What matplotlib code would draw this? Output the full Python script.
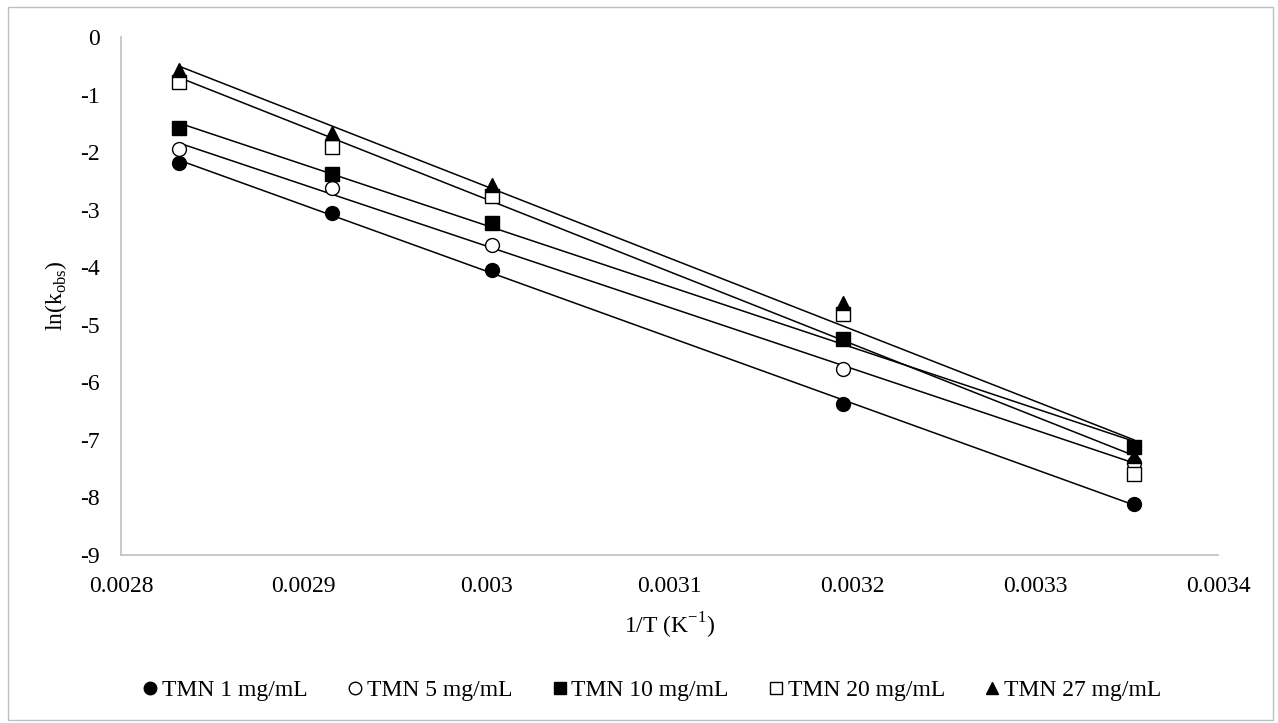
import numpy as np
import matplotlib
matplotlib.use("Agg")
import matplotlib.pyplot as plt
from matplotlib.ticker import FuncFormatter, MultipleLocator
from matplotlib.patches import Rectangle

plt.rcParams['font.family'] = ['Liberation Serif', 'DejaVu Serif']
plt.rcParams['axes.unicode_minus'] = False
plt.rcParams['mathtext.fontset'] = 'custom'
plt.rcParams['mathtext.rm'] = 'Liberation Serif'

inv_T = [0.0028317, 0.0029155, 0.0030030, 0.0031949, 0.0033540]
series_names = ["TMN 1 mg/mL", "TMN 5 mg/mL", "TMN 10 mg/mL", "TMN 20 mg/mL", "TMN 27 mg/mL"]
ln_k_1 = [-2.19, -3.06, -4.05, -6.37, -8.11]
ln_k_5 = [-1.95, -2.63, -3.61, -5.76, -7.40]
ln_k_10 = [-1.58, -2.38, -3.23, -5.24, -7.12]
ln_k_20 = [-0.78, -1.91, -2.76, -4.81, -7.60]
ln_k_27 = [-0.57, -1.67, -2.57, -4.62, -7.28]
all_series = [ln_k_1, ln_k_5, ln_k_10, ln_k_20, ln_k_27]
markers = ['o', 'o', 's', 's', '^']
facecolors = ['black', 'white', 'black', 'white', 'black']

FS = 17

fig = plt.figure(figsize=(12.78, 7.23), dpi=100)
ax = fig.add_axes([121/1278, 1-555/723, (1218-121)/1278, (555-37)/723])

x = np.array(inv_T)
handles = []
for ys, m, fc, name in zip(all_series, markers, facecolors, series_names):
    y = np.array(ys)
    coef = np.polyfit(x, y, 1)
    xf = np.array([x.min(), x.max()])
    ax.plot(xf, np.polyval(coef, xf), color='black', lw=1.1, zorder=2)
    ms = 10 if m != 's' else 9.5
    h, = ax.plot(x, y, linestyle='none', marker=m, markersize=ms,
                 markerfacecolor=fc, markeredgecolor='black', markeredgewidth=1.0,
                 zorder=3, label=name)
    handles.append(h)

ax.set_xlim(0.0028, 0.0034)
ax.set_ylim(-9, 0)
ax.xaxis.set_major_locator(MultipleLocator(0.0001))
ax.yaxis.set_major_locator(MultipleLocator(1))
ax.xaxis.set_major_formatter(FuncFormatter(lambda v, p: ('%.4f' % v).rstrip('0')))
ax.yaxis.set_major_formatter(FuncFormatter(lambda v, p: '%d' % round(v)))
for s in ['top', 'right']:
    ax.spines[s].set_visible(False)
for s in ['left', 'bottom']:
    ax.spines[s].set_color('#bfbfbf')
    ax.spines[s].set_linewidth(1.2)
ax.tick_params(length=0, labelsize=FS)
ax.tick_params(axis='x', pad=15)
ax.tick_params(axis='y', pad=15)

ax.set_xlabel('1/T (K$^{\\mathregular{-1}}$)', fontsize=FS, labelpad=10)
ax.set_ylabel('ln(k$_{\\mathregular{obs}}$)', fontsize=FS, labelpad=8)
ax.yaxis.set_label_coords(60/1278 - 121/1278, 0.5, transform=fig.transFigure) if False else None
ax.yaxis.label.set_position((0, 0.5))

fig.legend(handles=handles, labels=series_names, loc='center', bbox_to_anchor=(650/1278, 1-690/723),
           ncol=5, frameon=False, fontsize=FS, handletextpad=0.0, columnspacing=1.5,
           markerscale=0.9, handlelength=1.0, borderaxespad=0)

fig.patches.append(Rectangle((8/1278, 3/723), 1265/1278, 713/723, transform=fig.transFigure,
                             fill=False, edgecolor='#bfbfbf', lw=1.0))

fig.savefig('out.png', dpi=100)
